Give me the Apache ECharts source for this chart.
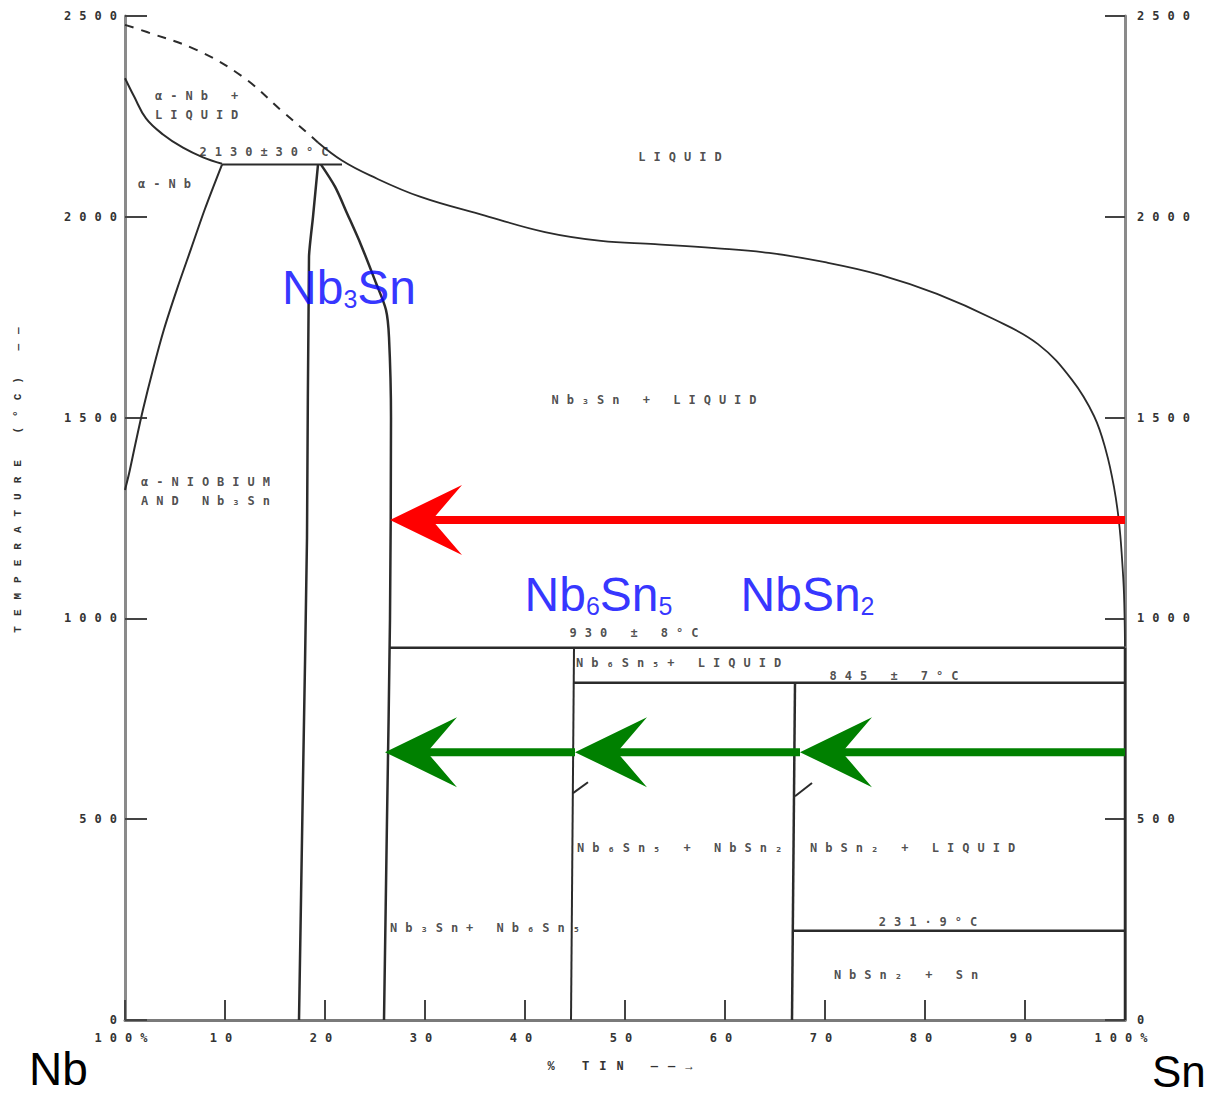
<!DOCTYPE html>
<html>
<head>
<meta charset="utf-8">
<script src="https://cdn.jsdelivr.net/npm/echarts@6/dist/echarts.min.js"></script>
<style>
html,body{margin:0;padding:0;background:#fff;}
#chart{width:1207px;height:1094px;}
#chart text[style*="DejaVu Sans Mono"]{letter-spacing:8px;}
#chart text[style*="Liberation Mono"]{letter-spacing:10px;}
</style>
</head>
<body>
<div id="chart"></div>
<script>
// ---------- data (at.% Sn, temperature °C) ----------
const nbLiquidusDashed = [[0,2478],[2.2,2460],[7.2,2415],[11.8,2348],[15.8,2261],[18.7,2199],[19.3,2185]];
const alphaSolidus = [[0,2345],[0.9,2300],[2.1,2245],[3.8,2205],[5.8,2172],[7.8,2148],[9.7,2132]];
const peritectic2130 = [[9.7,2130],[21.7,2130]];
const alphaSolvus = [[9.7,2130],[8.0,2020],[6.6,1920],[5.2,1820],[3.9,1720],[2.8,1620],[1.8,1520],[1.0,1430],[0.4,1360],[0,1320]];
const nb3snLeft = [[19.3,2130],[18.8,2000],[18.4,1900],[18.2,1200],[17.8,600],[17.4,0]];
const nb3snRight = [[19.6,2130],[21.0,2075],[22.2,2009],[23.6,1930],[25.1,1835],[26.1,1768],[26.4,1700],[26.6,1500],[26.5,1000],[26.2,500],[25.9,0]];
const liquidus = [[19.3,2185],[21.7,2140],[24.5,2103],[29.5,2050],[36,2003],[42,1962],[47.6,1940],[53,1932],[59,1922],[64.4,1910],[70,1887],[75.6,1855],[81.2,1808],[86.8,1746],[91.3,1683],[94.7,1594],[96.9,1504],[98.1,1417],[98.9,1327],[99.4,1240],[99.7,1150],[99.9,1060],[100,930]];
const line930 = [[26.4,927],[100,927]];
const nb6sn5Line = [[44.9,927],[44.6,0]];
const line845 = [[44.8,840],[100,840]];
const nbsn2Line = [[67.0,840],[66.7,0]];
const line232 = [[66.9,222],[100,222]];
const snLine = [[100,927],[100,0]];
const smallMarkA = [[44.8,565],[46.3,592]];
const smallMarkB = [[67.0,557],[68.7,590]];

// arrows: [from %Sn, to %Sn (tip), temperature]
const redArrows = [[100,26.5,1245]];
const greenArrows = [[100,67.5,667],[67.5,45.0,667],[45.0,26.0,667]];

// axis ticks
const tempTicks = [0,500,1000,1500,2000,2500];
const tinTicks = [0,10,20,30,40,50,60,70,80,90,100];

// region labels: [text, %Sn, °C, align]
const regionLabels = [
  ['α-Nb +\nLIQUID', 3.0, 2276, 'left'],
  ['2130±30°C', 14.3, 2161, 'center'],
  ['α-Nb', 1.3, 2082, 'left'],
  ['LIQUID', 55.9, 2149, 'center'],
  ['α-NIOBIUM\nAND Nb₃Sn', 1.6, 1317, 'left'],
  ['Nb₃Sn + LIQUID', 53.3, 1544, 'center'],
  ['930 ± 8°C', 51.3, 964, 'center'],
  ['Nb₆Sn₅+ LIQUID', 45.1, 889, 'left'],
  ['845 ± 7°C', 77.3, 857, 'center'],
  ['Nb₆Sn₅ + NbSn₂', 45.2, 428, 'left'],
  ['NbSn₂ + LIQUID', 68.5, 428, 'left'],
  ['231·9°C', 80.7, 244, 'center'],
  ['NbSn₂ + Sn', 78.5, 112, 'center'],
  ['Nb₃Sn+ Nb₆Sn₅', 26.5, 229, 'left']
];
// compound labels: [rich text, %Sn, °C]
const compoundLabels = [
  ['{m|Nb}{s|3}{m|Sn}', 22.4, 1823],
  ['{m|Nb}{s|6}{m|Sn}{s|5}', 47.35, 1060],
  ['{m|NbSn}{s|2}', 68.25, 1060]
];

// ---------- chart ----------
const chart = echarts.init(document.getElementById('chart'), null, {renderer: 'svg'});
const MONO = 'DejaVu Sans Mono';
const MONO2 = 'Liberation Mono';
const lineCol = '#2b2b2b';

function phaseLine(data, opts) {
  opts = opts || {};
  return {
    type: 'line', data: data, showSymbol: false, symbol: 'none', clip: false,
    smooth: opts.smooth || false, silent: true, z: 3,
    lineStyle: {color: opts.color || lineCol, width: opts.width || 2, type: opts.type || 'solid'}
  };
}

function arrowRender(color, width) {
  return function (params, api) {
    const p1 = api.coord([api.value(0), api.value(2)]);
    const p2 = api.coord([api.value(1), api.value(2)]);
    const dir = p1[0] > p2[0] ? 1 : -1;
    const L = 72, H = 35, N = 42;
    return {
      type: 'group',
      children: [
        {type: 'line', shape: {x1: p1[0], y1: p1[1], x2: p2[0] + dir * N * 0.6, y2: p2[1]},
         style: {stroke: color, lineWidth: width}},
        {type: 'polygon', shape: {points: [
          [p2[0], p2[1]], [p2[0] + dir * L, p2[1] - H], [p2[0] + dir * N, p2[1]], [p2[0] + dir * L, p2[1] + H]
        ]}, style: {fill: color}}
      ]
    };
  };
}

const axisLabelStyle = {fontFamily: MONO, fontSize: 12, fontWeight: 'bold', color: '#333'};
function plainNum(v) { return String(v); }

const option = {
  animation: false,
  backgroundColor: '#fff',
  grid: {left: 125, right: 82, top: 16, bottom: 74},
  xAxis: {
    type: 'value', min: 0, max: 100, interval: 10,
    name: '% TIN ——→', nameLocation: 'middle', nameGap: 41,
    nameTextStyle: {fontFamily: MONO2, fontSize: 12, fontWeight: 'bold', color: '#333'},
    axisLine: {show: true, lineStyle: {color: '#7a7a7a', width: 3}},
    axisTick: {show: true, inside: true, length: 20, lineStyle: {color: '#444', width: 2}},
    axisLabel: Object.assign({margin: 12, formatter: function (v) { return (v === 0 || v === 100) ? '100%' : String(v); }}, axisLabelStyle),
    splitLine: {show: false}
  },
  yAxis: [
    {
      type: 'value', min: 0, max: 2500, interval: 500, position: 'left',
      axisLine: {show: true, lineStyle: {color: '#8a8a8a', width: 3}},
      axisTick: {show: true, inside: true, length: 22, lineStyle: {color: '#444', width: 2}},
      axisLabel: Object.assign({margin: 0, formatter: plainNum}, axisLabelStyle),
      splitLine: {show: false}
    },
    {
      type: 'value', min: 0, max: 2500, interval: 500, position: 'right',
      axisLine: {show: true, lineStyle: {color: '#8a8a8a', width: 3}},
      axisTick: {show: true, inside: true, length: 20, lineStyle: {color: '#444', width: 2}},
      axisLabel: Object.assign({margin: 12, formatter: plainNum}, axisLabelStyle),
      splitLine: {show: false}
    }
  ],
  graphic: [
    {type: 'text', x: 18, y: 475, rotation: Math.PI / 2,
     style: {text: 'TEMPERATURE (°C) ——', fontFamily: MONO2, fontSize: 11, fontWeight: 'bold', fill: '#333', align: 'center', verticalAlign: 'middle'}},
    {type: 'text', x: 29, y: 1069,
     style: {text: 'Nb', fontFamily: 'Liberation Sans', fontSize: 46, fill: '#000', align: 'left', verticalAlign: 'middle'}},
    {type: 'text', x: 1152, y: 1071,
     style: {text: 'Sn', fontFamily: 'Liberation Sans', fontSize: 44, fill: '#000', align: 'left', verticalAlign: 'middle'}}
  ],
  series: [
    phaseLine(nbLiquidusDashed, {type: [9, 8], width: 2, smooth: 0.4}),
    phaseLine(alphaSolidus, {smooth: 0.4}),
    phaseLine(peritectic2130),
    phaseLine(alphaSolvus, {smooth: 0.3}),
    phaseLine(nb3snLeft, {width: 2.5, smooth: 0.2}),
    phaseLine(nb3snRight, {width: 2.5, smooth: 0.3}),
    phaseLine(liquidus, {smooth: 0.4, width: 1.8}),
    phaseLine(line930, {width: 2.5}),
    phaseLine(nb6sn5Line),
    phaseLine(line845, {width: 2.5}),
    phaseLine(nbsn2Line, {width: 2.5}),
    phaseLine(line232, {width: 2.5}),
    phaseLine(snLine, {width: 2.5}),
    phaseLine(smallMarkA),
    phaseLine(smallMarkB),
    {
      type: 'custom', data: redArrows, encode: {x: [0, 1], y: 2}, silent: true, z: 5, clip: false,
      renderItem: arrowRender('#ff0000', 8)
    },
    {
      type: 'custom', data: greenArrows, encode: {x: [0, 1], y: 2}, silent: true, z: 5, clip: false,
      renderItem: arrowRender('#008000', 8)
    },
    {
      type: 'scatter', symbolSize: 0, silent: true, z: 6,
      data: regionLabels.map(function (r) {
        return {value: [r[1], r[2]], label: {formatter: r[0], align: r[3]}};
      }),
      label: {show: true, position: 'inside', verticalAlign: 'middle', fontFamily: MONO, fontSize: 12,
              fontWeight: 'bold', color: '#222', lineHeight: 19}
    },
    {
      type: 'scatter', symbolSize: 0, silent: true, z: 6,
      data: compoundLabels.map(function (c) {
        return {value: [c[1], c[2]], label: {formatter: c[0]}};
      }),
      label: {
        show: true, position: 'inside', align: 'center', verticalAlign: 'middle',
        rich: {
          m: {fontFamily: 'Liberation Sans', fontSize: 48, lineHeight: 48, color: '#0000ff'},
          s: {fontFamily: 'Liberation Sans', fontSize: 25, lineHeight: 14, color: '#0000ff', verticalAlign: 'bottom'}
        }
      }
    }
  ]
};
chart.setOption(option);
</script>
</body>
</html>
